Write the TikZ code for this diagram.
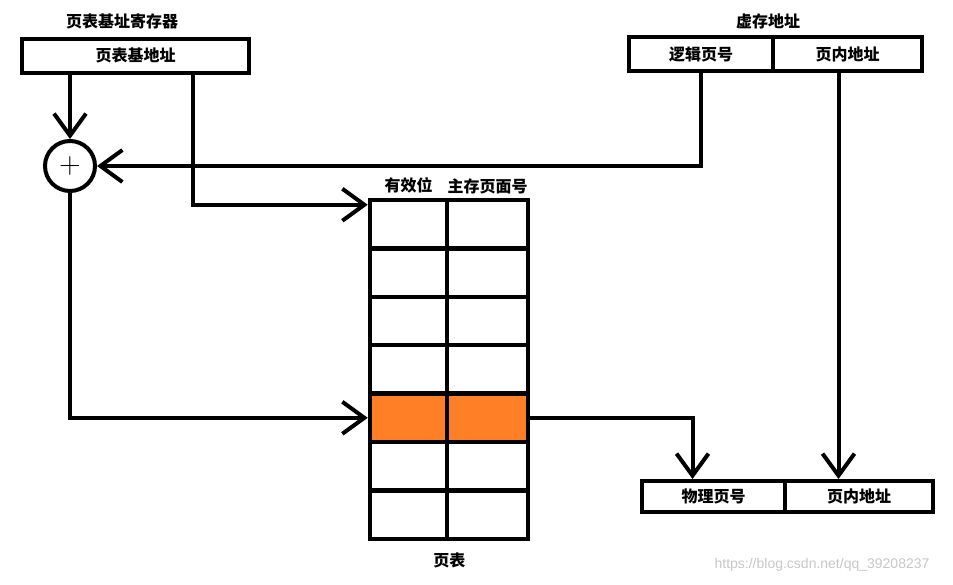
\documentclass[tikz,border=0pt]{standalone}
\usepackage{fontspec}
\usepackage{tikz}
\usetikzlibrary{arrows.meta, positioning, calc}
\newfontfamily\cjk{Noto Sans CJK SC}
\newfontfamily\wmark{Liberation Sans}
\definecolor{hitrow}{RGB}{255, 127, 39}

\begin{document}
\begin{tikzpicture}[
  x=1pt, y=-1pt,
  node distance = 3pt,
  field/.style   = {rectangle, draw=black, line width=4pt, inner sep=0pt,
                    minimum height=34pt, font=\cjk\bfseries\fontsize{16}{19}\selectfont},
  cell/.style    = {rectangle, draw=black, line width=4.5pt, inner sep=0pt,
                    minimum height=48.4pt},
  caption/.style = {font=\cjk\bfseries\fontsize{16}{19}\selectfont, inner sep=1pt},
  adder/.style   = {circle, draw=black, line width=4pt, minimum size=50pt,
                    inner sep=0pt, font=\fontsize{30}{30}\selectfont},
  arr/.style     = {-{Straight Barb[length=22pt, width=32pt, line width=4pt]},
                    line width=4pt, line join=miter},
]
\useasboundingbox (0,0) rectangle (953,584);

%% page table base register
\node[field, minimum width=227pt] (reg) at (135.5,55.5) {页表基地址};
\node[caption] at (122,21) {页表基址寄存器};

%% virtual address
\node[field, minimum width=144pt] (logical) at (701,54) {逻辑页号};
\node[field, minimum width=149pt] (offset) at (847.5,54) {页内地址};
\node[caption] at (768,21) {虚存地址};

%% adder
\node[adder] (sum) at (70,166) {+};

%% page table
\foreach \r in {1,...,7} {
  \pgfmathsetmacro\yc{200+(\r-0.5)*48.4}
  \node[cell, minimum width=77pt] (c\r1) at (408.5,\yc) {};
  \node[cell, minimum width=81pt] (c\r2) at (487.5,\yc) {};
}
\node[cell, minimum width=77pt, fill=hitrow] at (c51) {};
\node[cell, minimum width=81pt, fill=hitrow] at (c52) {};
\node[caption, above=of c11.north] {有效位};
\node[caption, above=of c12.north] {主存页面号};
\node[caption, below=11pt of c71.south east] {页表};

%% physical address
\node[field, minimum width=143pt, minimum height=31pt] (physPage) at (713.5,496.5) {物理页号};
\node[field, minimum width=148pt, minimum height=31pt] (physOff) at (859,496.5) {页内地址};

%% connecting arrows
\draw[arr] (sum |- reg.south) -- (sum.north);
\draw[arr] ([xshift=-58pt]reg.south east) |- ([yshift=-7pt]c11.north west);
\draw[arr] (logical.south) |- (sum.east);
\draw[arr] ([xshift=-9pt]offset.south) -- ([xshift=-9pt]offset.south |- physOff.north);
\draw[arr] (sum.south) |- (c51.west);
\draw[arr] (c52.east) -| ([xshift=-21pt]physPage.north);

\node[font=\wmark\fontsize{14}{16}\selectfont, text=black!22] at (822,565) {https://blog.csdn.net/qq\_39208237};
\end{tikzpicture}
\end{document}
